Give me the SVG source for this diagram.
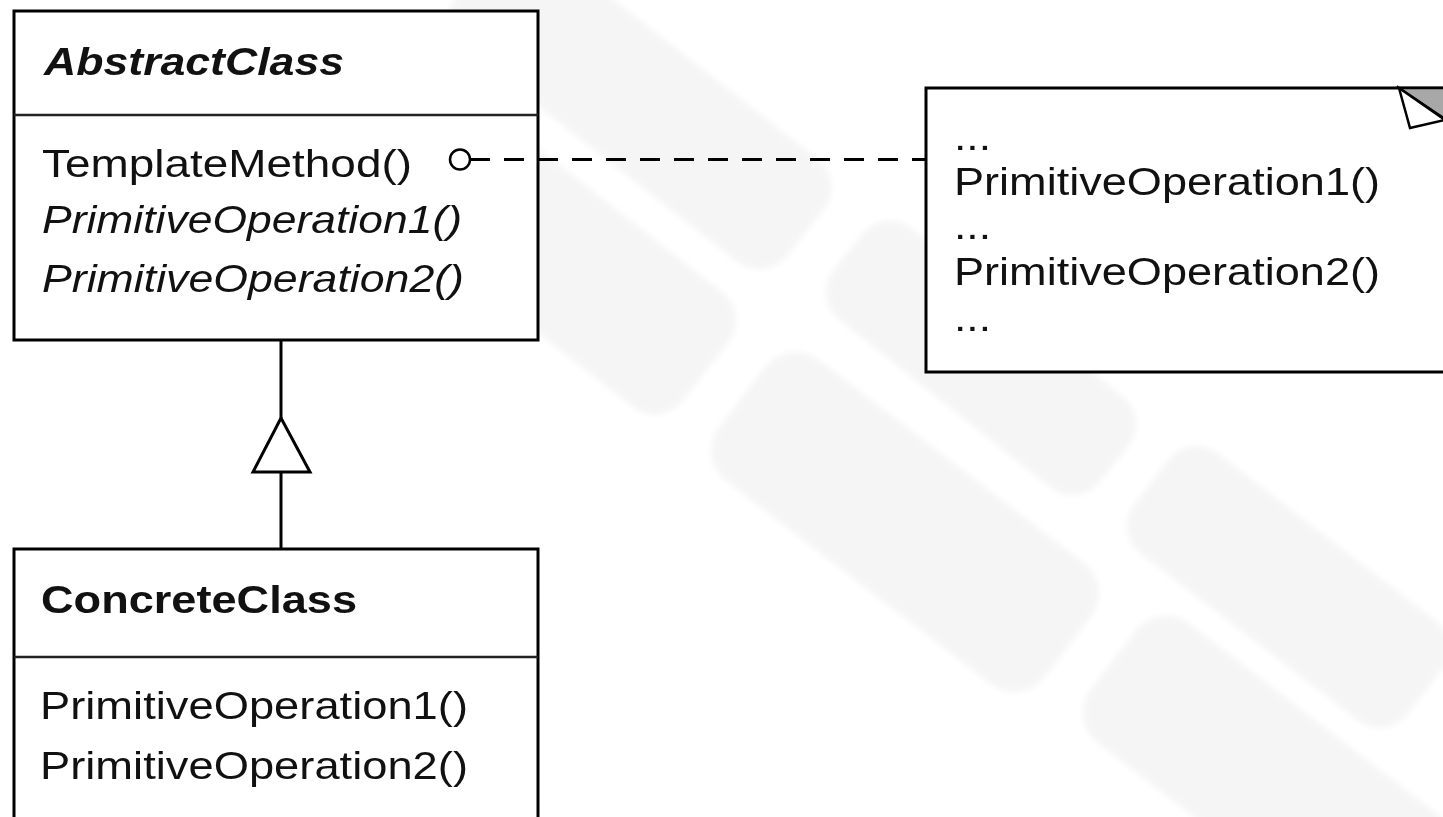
<svg xmlns="http://www.w3.org/2000/svg" width="1443" height="817" viewBox="0 0 1443 817">
<style>
.box{fill:#fff;stroke:#000;stroke-width:3}
.sep{stroke:#222;stroke-width:2.5}
.t{font-family:"Liberation Sans",Arial,sans-serif;font-size:39px;fill:#111}
.b{font-weight:bold}
.i{font-style:italic}
.ln{stroke:#000;stroke-width:3;fill:none}
.wm{fill:#f5f5f5}
</style>
<defs>
<filter id="soft" x="-10%" y="-10%" width="120%" height="120%"><feGaussianBlur stdDeviation="3"/></filter>
</defs>
<rect width="1443" height="817" fill="#fff"/>
<g id="watermark" filter="url(#soft)">
<rect class="wm" x="-210" y="-65" width="420" height="130" rx="35" transform="translate(640,103) rotate(38)"/>
<rect class="wm" x="-190" y="-72" width="380" height="145" rx="35" transform="translate(556,254) rotate(38)"/>
<rect class="wm" x="-170" y="-58" width="340" height="116" rx="35" transform="translate(981,358) rotate(38.5)"/>
<rect class="wm" x="-205" y="-76" width="410" height="152" rx="38" transform="translate(905,522) rotate(37.5)"/>
<rect class="wm" x="-172" y="-63" width="344" height="126" rx="35" transform="translate(1288,587) rotate(37.5)"/>
<rect class="wm" x="-210" y="-75" width="420" height="150" rx="38" transform="translate(1280,788) rotate(37.5)"/>
</g>
<g id="AbstractClass">
<rect class="box" x="14" y="11" width="524" height="329"/>
<line class="sep" x1="14" y1="115" x2="538" y2="115"/>
<text class="t b i" x="44" y="75" textLength="300" lengthAdjust="spacingAndGlyphs">AbstractClass</text>
<text class="t" x="42" y="177" textLength="370" lengthAdjust="spacingAndGlyphs">TemplateMethod()</text>
<text class="t i" x="42" y="233" textLength="420" lengthAdjust="spacingAndGlyphs">PrimitiveOperation1()</text>
<text class="t i" x="42" y="292" textLength="422" lengthAdjust="spacingAndGlyphs">PrimitiveOperation2()</text>
</g>
<g id="ConcreteClass">
<rect class="box" x="14" y="549" width="524" height="300"/>
<line class="sep" x1="14" y1="657" x2="538" y2="657"/>
<text class="t b" x="41" y="613" textLength="316" lengthAdjust="spacingAndGlyphs">ConcreteClass</text>
<text class="t" x="40" y="719" textLength="428" lengthAdjust="spacingAndGlyphs">PrimitiveOperation1()</text>
<text class="t" x="40" y="779" textLength="428" lengthAdjust="spacingAndGlyphs">PrimitiveOperation2()</text>
</g>
<g id="note">
<rect class="box" x="926" y="88" width="540" height="284"/>
<polygon points="1399,88 1445,88 1445,119" fill="#a8a8a8" stroke="#000" stroke-width="2.5" stroke-linejoin="miter"/>
<polygon points="1399,88 1410,128 1445,120" fill="#fff" stroke="#000" stroke-width="2.5"/>
<text class="t" x="954" y="150" textLength="37" lengthAdjust="spacingAndGlyphs">...</text>
<text class="t" x="954" y="195" textLength="426" lengthAdjust="spacingAndGlyphs">PrimitiveOperation1()</text>
<text class="t" x="954" y="239" textLength="37" lengthAdjust="spacingAndGlyphs">...</text>
<text class="t" x="954" y="285" textLength="426" lengthAdjust="spacingAndGlyphs">PrimitiveOperation2()</text>
<text class="t" x="954" y="331" textLength="37" lengthAdjust="spacingAndGlyphs">...</text>
</g>
<g id="connectors">
<line class="ln" x1="281" y1="340" x2="281" y2="418"/>
<polygon points="281,418 253,472 310,472" fill="#fff" stroke="#000" stroke-width="3"/>
<line class="ln" x1="281" y1="472" x2="281" y2="549"/>
<circle cx="460" cy="159.5" r="10" fill="#fff" stroke="#000" stroke-width="2.5"/>
<line class="ln" x1="470" y1="159.5" x2="925" y2="159.5" stroke-dasharray="20 14"/>
</g>
</svg>
